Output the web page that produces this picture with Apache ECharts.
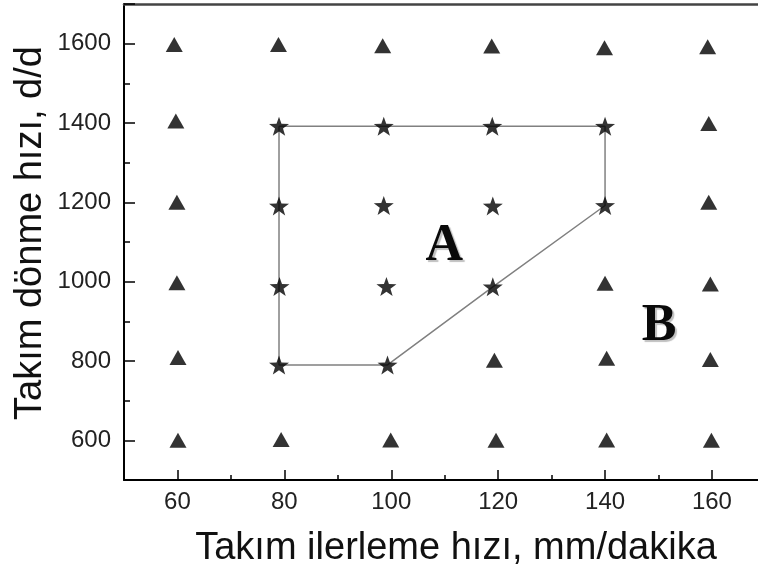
<!DOCTYPE html>
<html>
<head>
<meta charset="utf-8">
<script src="https://cdn.jsdelivr.net/npm/echarts@6/dist/echarts.min.js"></script>
<style>
html,body{margin:0;padding:0;background:#fff;}
#chart{width:758px;height:574px;}
</style>
</head>
<body>
<div id="chart"></div>
<script>
// ---- Data ----
var xTitle = 'Takım ilerleme hızı, mm/dakika';
var yTitle = 'Takım dönme hızı, d/d';

var xTickLabels = [60, 80, 100, 120, 140, 160];
var yTickLabels = [600, 800, 1000, 1200, 1400, 1600];

// Region B points (triangles)
var triX = [59.4, 78.9, 98.4, 118.8, 139.9, 159.2,
            59.7, 159.4,
            59.9, 159.4,
            59.9, 140.0, 159.7,
            60.1, 119.3, 140.3, 159.7,
            60.1, 79.4, 99.9, 119.6, 140.3, 159.9];
var triY = [1598, 1598, 1595, 1594, 1590, 1592,
            1405, 1399,
            1200, 1200,
            997, 996, 994,
            809, 802, 807, 804,
            600, 602, 601, 600, 601, 600];

// Region A points (stars)
var starX = [79.0, 98.6, 118.9, 140.0,
             79.0, 98.6, 119.0, 140.0,
             79.1, 99.1, 119.0,
             79.0, 99.3];
var starY = [1392, 1392, 1392, 1392,
             1191, 1192, 1191, 1192,
             988, 988, 987,
             790, 790];

// Boundary of region A
var boundaryX = [79.0, 140.0, 140.0, 119.0, 99.3, 79.0, 79.0];
var boundaryY = [1392, 1392, 1192, 987, 790, 790, 1392];

// Region letters
var regionNames = ['A', 'B'];
var regionX = [109.9, 150.1];
var regionY = [1089, 887];

function zip(a, b) { return a.map(function (v, i) { return [v, b[i]]; }); }

var starPath = 'path://M0,-10 L2.35,-3.24 L9.51,-3.09 L3.8,1.24 L5.88,8.09 L0,4 L-5.88,8.09 L-3.8,1.24 L-9.51,-3.09 L-2.35,-3.24 Z';

var chart = echarts.init(document.getElementById('chart'), null, {renderer: 'canvas'});
var sans = "'Liberation Sans', Arial, sans-serif";
var serif = "'Liberation Serif', 'Times New Roman', serif";

var option = {
  backgroundColor: '#ffffff',
  animation: false,
  grid: [
    {left: 124, right: -7.4, top: 4, bottom: 94, outerBoundsMode: 'none'},
    {left: 177.45, right: -60.85, top: 4, bottom: 94, outerBoundsMode: 'none'},
    {left: 124, right: -7.4, top: 4, bottom: 133.67, outerBoundsMode: 'none'}
  ],
  xAxis: [
    {
      gridIndex: 0, type: 'value', min: 50, max: 170, interval: 10,
      axisLine: {show: true, lineStyle: {color: '#000', width: 2}},
      axisTick: {show: true, inside: true, length: 5, lineStyle: {color: '#000', width: 1.5}},
      axisLabel: {show: false},
      splitLine: {show: false}
    },
    {
      gridIndex: 1, type: 'value', min: 60, max: 180, interval: 20,
      axisLine: {show: false},
      axisTick: {show: true, inside: true, length: 10, lineStyle: {color: '#000', width: 1.5}},
      axisLabel: {
        show: true, margin: 10, fontSize: 24, color: '#222', fontFamily: sans,
        formatter: function (v) { return xTickLabels.indexOf(v) >= 0 ? String(v) : ''; }
      },
      splitLine: {show: false}
    },
    {gridIndex: 2, type: 'value', min: 50, max: 170, show: false},
    {
      gridIndex: 0, type: 'value', min: 50, max: 170, position: 'top',
      axisLine: {show: true, lineStyle: {color: '#444', width: 2.5}},
      axisTick: {show: false}, axisLabel: {show: false}, splitLine: {show: false}
    }
  ],
  yAxis: [
    {
      gridIndex: 0, type: 'value', min: 500, max: 1700, interval: 100,
      axisLine: {show: true, lineStyle: {color: '#000', width: 2}},
      axisTick: {show: true, inside: true, length: 6, lineStyle: {color: '#000', width: 1.5}},
      axisLabel: {show: false},
      splitLine: {show: false}
    },
    {gridIndex: 1, type: 'value', min: 500, max: 1700, show: false},
    {
      gridIndex: 2, type: 'value', min: 600, max: 1700, interval: 200,
      axisLine: {show: false},
      axisTick: {show: true, inside: true, length: 11, lineStyle: {color: '#000', width: 1.5}},
      axisLabel: {
        show: true, margin: 13, fontSize: 24, color: '#222', fontFamily: sans,
        formatter: function (v) { return yTickLabels.indexOf(v) >= 0 ? String(v) : ''; }
      },
      splitLine: {show: false}
    }
  ],
  graphic: [
    {type: 'text', x: 456, y: 549, z: 100,
      style: {text: xTitle, font: '38px ' + sans, fill: '#111', textAlign: 'center', textVerticalAlign: 'middle'}},
    {type: 'text', x: 31, y: 233, rotation: Math.PI / 2, z: 100,
      style: {text: yTitle, font: '38px ' + sans, fill: '#111', textAlign: 'center', textVerticalAlign: 'middle'}}
  ],
  series: [
    {
      type: 'line', xAxisIndex: 0, yAxisIndex: 0,
      data: zip(boundaryX, boundaryY),
      symbol: 'none', lineStyle: {color: '#808080', width: 1.5}, z: 2, silent: true
    },
    {
      type: 'scatter', xAxisIndex: 0, yAxisIndex: 0,
      data: zip(triX, triY),
      symbol: 'triangle', symbolSize: [17, 15],
      itemStyle: {color: '#000'}, z: 3
    },
    {
      type: 'scatter', xAxisIndex: 0, yAxisIndex: 0,
      data: zip(starX, starY),
      symbol: starPath, symbolSize: [20, 19],
      itemStyle: {color: '#000'}, z: 4
    },
    {
      type: 'scatter', xAxisIndex: 0, yAxisIndex: 0,
      data: regionNames.map(function (n, i) { return {name: n, value: [regionX[i], regionY[i]]}; }),
      symbol: 'circle', symbolSize: 2, z: 5,
      itemStyle: {color: '#fff', opacity: 1},
      label: {
        show: true, position: 'inside', formatter: '{b}', opacity: 1,
        fontFamily: serif, fontWeight: 'bold', fontSize: 52, color: '#0a0a0a',
        textBorderWidth: 0,
        textShadowColor: 'rgba(0,0,0,0.25)', textShadowBlur: 1, textShadowOffsetX: 2, textShadowOffsetY: 2
      }
    }
  ]
};
chart.setOption(option);
</script>
</body>
</html>
